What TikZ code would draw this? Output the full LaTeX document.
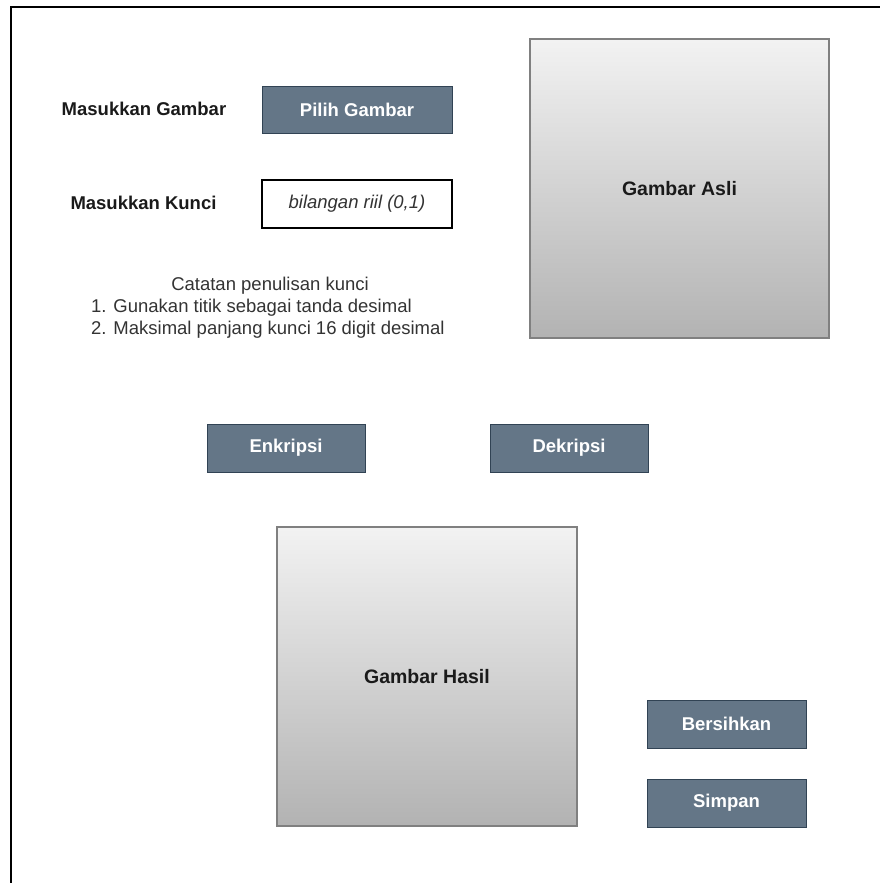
\documentclass[tikz,border=0pt]{standalone}
\usepackage{fontspec}
\setmainfont{Liberation Sans}
\definecolor{btnfill}{HTML}{647687}
\definecolor{btnline}{HTML}{314354}
\definecolor{imgline}{HTML}{808080}
\definecolor{txt}{HTML}{1A1A1A}
\begin{document}
\begin{tikzpicture}[x=1pt,y=-1pt,
  every node/.style={font=\fontsize{18.5}{22}\selectfont, text=txt, inner sep=0pt},
  btn/.style={rectangle, draw=btnline, fill=btnfill, line width=1pt, minimum width=#1, minimum height=48pt, text=white, font=\fontsize{18.5}{22}\selectfont\bfseries},
  btn/.default=158pt,
  imgbox/.style={rectangle, draw=imgline, line width=1.2pt, top color=white!95!black, bottom color=black!30, minimum width=300pt, minimum height=299pt, font=\fontsize{19.5}{22}\selectfont\bfseries},
  lbl/.style={font=\fontsize{18.5}{22}\selectfont\bfseries},
  note/.style={font=\fontsize{18.5}{22}\selectfont, text=black!80}
]
\useasboundingbox (0,0) rectangle (879,883);
\draw[line width=1.5pt] (11,900) -- (11,7) -- (900,7);

\node[lbl] (lg) at (144,109) {Masukkan Gambar};
\node[btn=190pt, minimum height=47pt] (pilih) at (357,110) {Pilih Gambar};
\node[lbl] (lk) at (143.5,203) {Masukkan Kunci};
\node[rectangle, draw=black, line width=1.2pt, fill=white, minimum width=190pt, minimum height=48pt, font=\fontsize{18.5}{22}\selectfont\itshape, text=black!80] (kunci) at (357,204) {bilangan riil (0,1)};

\node[note, anchor=base] (n0) at (270,290) {Catatan penulisan kunci};
\node[note, anchor=base west] (n1) at (91,312) {1. Gunakan titik sebagai tanda desimal};
\node[note, anchor=base west] (n2) at (91,334) {2. Maksimal panjang kunci 16 digit desimal};

\node[imgbox, minimum width=299pt] (asli) at (679.5,188.5) {Gambar Asli};

\node[btn] (enk) at (286,448) {Enkripsi};
\node[btn] (dek) at (569,448) {Dekripsi};

\node[imgbox] (hasil) at (427,676.5) {Gambar Hasil};

\node[btn=159pt] (bersih) at (726.5,724) {Bersihkan};
\node[btn=159pt] (simpan) at (726.5,803) {Simpan};
\end{tikzpicture}
\end{document}
